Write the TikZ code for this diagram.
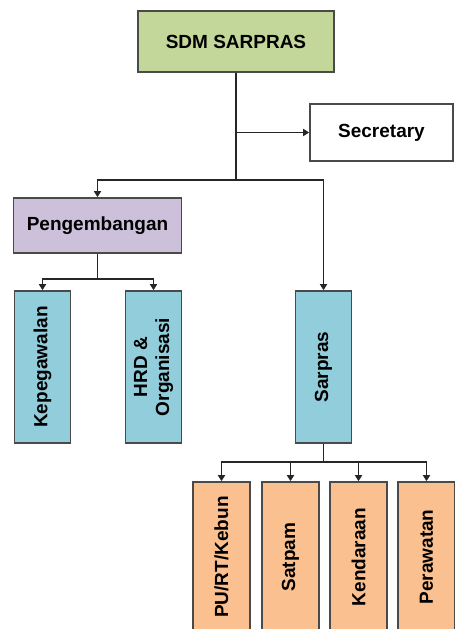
\documentclass[tikz,border=0pt]{standalone}
\usepackage{fontspec}
\setmainfont{Liberation Sans}
\usetikzlibrary{arrows.meta}
\definecolor{boxgreen}{HTML}{C4D79B}
\definecolor{boxlilac}{HTML}{CCC0DA}
\definecolor{boxblue}{HTML}{92CDDC}
\definecolor{boxorange}{HTML}{FAC08F}
\definecolor{rim}{HTML}{4A4A4A}
\tikzset{
  unit/.style={draw=rim, line width=1.6pt, inner sep=0pt, align=center,
    font=\fontsize{19}{23}\selectfont\bfseries},
  wide/.style={unit, minimum height=#1},
  tall/.style={unit, minimum width=56pt, minimum height=#1},
  link/.style={line width=1.8pt, black!85},
  arr/.style={link, -{Triangle[length=6pt,width=7pt]}},
}
\newcommand{\uprot}[1]{\rotatebox{90}{#1}}
\begin{document}
\begin{tikzpicture}[x=1pt,y=-1pt]
  \useasboundingbox (0,0) rectangle (455,629);
  \clip (0,0) rectangle (455,629);
  \fill[white] (0,0) rectangle (455,629);

  % top level and secretary
  \node[wide=61pt, minimum width=196pt, fill=boxgreen] (top) at (236,41.5) {SDM SARPRAS};
  \node[wide=57pt, minimum width=143pt, fill=white] (sec) at (381.5,132.5) {Secretary};

  % second level
  \node[wide=55pt, minimum width=168pt, fill=boxlilac] (peng) at (97.5,225.5) {Pengembangan};
  \node[tall=152pt, fill=boxblue] (sarpras) at (323.5,367) {\uprot{Sarpras}};

  % under Pengembangan
  \node[tall=152pt, fill=boxblue] (kep) at (42.5,367) {\uprot{Kepegawalan}};
  \node[tall=152pt, fill=boxblue] (hrd) at (153.5,367)
    {\uprot{\begin{tabular}{@{}c@{}}HRD \&\\[-1pt]Organisasi\end{tabular}}};

  % under Sarpras
  \node[tall=150pt, minimum width=57pt, fill=boxorange] (pu)  at (221.5,557) {\uprot{PU/RT/Kebun}};
  \node[tall=150pt, minimum width=57pt, fill=boxorange] (sat) at (290.5,557) {\uprot{Satpam}};
  \node[tall=150pt, minimum width=57pt, fill=boxorange] (ken) at (358.5,557) {\uprot{Kendaraan}};
  \node[tall=150pt, minimum width=57pt, fill=boxorange] (per) at (426.5,557) {\uprot{Perawatan}};

  % junction points
  \coordinate (j1) at (236,180);
  \coordinate (j2) at ([yshift=-25pt]peng.south);
  \coordinate (j3) at ([yshift=-18pt]sarpras.south);

  % connectors
  \draw[link] (top.south) -- (j1);
  \draw[arr] (top.south |- sec.west) -- (sec.west);
  \draw[arr] (j1) -| (peng.north);
  \draw[arr] (j1) -| (sarpras.north);

  \draw[link] (peng.south) -- (j2);
  \draw[arr] (j2) -| (kep.north);
  \draw[arr] (j2) -| (hrd.north);

  \draw[link] (sarpras.south) -- (j3);
  \draw[arr] (j3) -| (pu.north);
  \draw[arr] (j3) -| (sat.north);
  \draw[arr] (j3) -| (ken.north);
  \draw[arr] (j3) -| (per.north);
\end{tikzpicture}
\end{document}
